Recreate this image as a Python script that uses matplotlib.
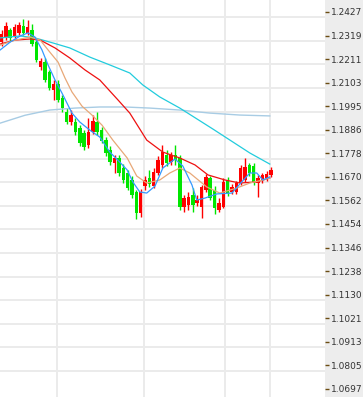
import matplotlib
matplotlib.use('Agg')
import matplotlib.pyplot as plt
import numpy as np

# daily candles (red = up, green = down)
opens = [1.2289, 1.2312, 1.2344, 1.2317, 1.2331, 1.2363, 1.2331, 1.2344, 1.2289, 1.2174,
         1.2197, 1.2152, 1.2069, 1.2096, 1.2032, 1.1968, 1.1922, 1.1922, 1.1894, 1.1872,
         1.1816, 1.1876, 1.1922, 1.1885, 1.1839, 1.1794, 1.1734, 1.1757, 1.1711, 1.1688,
         1.1656, 1.1601, 1.1504, 1.1628, 1.1665, 1.1628, 1.1688, 1.1725, 1.1771, 1.1738,
         1.1771, 1.1757, 1.1532, 1.1541, 1.1587, 1.1550, 1.1532, 1.1610, 1.1665, 1.1610,
         1.1518, 1.1532, 1.1656, 1.1601, 1.1601, 1.1642, 1.1656, 1.1725, 1.1720, 1.1642,
         1.1656, 1.1665, 1.1679]
closes = [1.2326, 1.2363, 1.2308, 1.2358, 1.2367, 1.2331, 1.2358, 1.2280, 1.2207, 1.2202,
          1.2115, 1.2078, 1.2096, 1.2023, 1.1986, 1.1922, 1.1954, 1.1876, 1.1826, 1.1807,
          1.1876, 1.1927, 1.1876, 1.1835, 1.1780, 1.1738, 1.1757, 1.1688, 1.1656, 1.1619,
          1.1587, 1.1504, 1.1601, 1.1656, 1.1637, 1.1692, 1.1748, 1.1784, 1.1734, 1.1771,
          1.1748, 1.1532, 1.1573, 1.1578, 1.1541, 1.1564, 1.1624, 1.1670, 1.1573, 1.1527,
          1.1550, 1.1647, 1.1596, 1.1624, 1.1642, 1.1711, 1.1715, 1.1688, 1.1647, 1.1665,
          1.1679, 1.1683, 1.1702]
highs = [1.2344, 1.2381, 1.2353, 1.2372, 1.2381, 1.2395, 1.2390, 1.2372, 1.2298, 1.2216,
         1.2216, 1.2161, 1.2115, 1.2115, 1.2046, 1.1986, 1.1977, 1.1940, 1.1908, 1.1885,
         1.1940, 1.1954, 1.1968, 1.1899, 1.1853, 1.1812, 1.1771, 1.1771, 1.1729, 1.1702,
         1.1674, 1.1610, 1.1614, 1.1674, 1.1702, 1.1711, 1.1766, 1.1816, 1.1794, 1.1784,
         1.1816, 1.1771, 1.1587, 1.1601, 1.1619, 1.1587, 1.1633, 1.1683, 1.1674, 1.1628,
         1.1573, 1.1665, 1.1670, 1.1637, 1.1651, 1.1725, 1.1757, 1.1734, 1.1734, 1.1679,
         1.1688, 1.1697, 1.1715]
lows = [1.2271, 1.2298, 1.2294, 1.2308, 1.2321, 1.2321, 1.2321, 1.2271, 1.2197, 1.2161,
        1.2106, 1.2069, 1.2023, 1.2014, 1.1968, 1.1913, 1.1908, 1.1862, 1.1812, 1.1794,
        1.1803, 1.1867, 1.1862, 1.1826, 1.1766, 1.1725, 1.1688, 1.1674, 1.1642, 1.1610,
        1.1573, 1.1477, 1.1486, 1.1610, 1.1624, 1.1619, 1.1679, 1.1711, 1.1720, 1.1725,
        1.1725, 1.1518, 1.1509, 1.1518, 1.1509, 1.1536, 1.1481, 1.1601, 1.1564, 1.1500,
        1.1509, 1.1527, 1.1582, 1.1592, 1.1592, 1.1633, 1.1647, 1.1674, 1.1633, 1.1578,
        1.1642, 1.1651, 1.1670]

# moving average lines (candle position, value)
ma5_x = [-0.3, 2.0, 4.3, 6.1, 7.7, 9.3, 10.7, 12.3, 13.9, 16.2, 18.0, 20.3, 22.6, 24.9, 27.2, 28.9, 30.2,
         31.8, 33.4, 35.3, 37.1, 39.9, 41.7, 43.8, 44.9, 46.8, 49.5, 53.0, 54.8, 57.1, 58.7, 60.1, 61.7]
ma5_y = [1.2253, 1.2289, 1.2317, 1.2331, 1.2312, 1.2253, 1.2184, 1.2115, 1.2055, 1.1963, 1.1922, 1.1885,
         1.1853, 1.1784, 1.1738, 1.1702, 1.1647, 1.1601, 1.1596, 1.1628, 1.1711, 1.1752, 1.1720, 1.1633,
         1.1564, 1.1573, 1.1592, 1.1596, 1.1637, 1.1688, 1.1688, 1.1656, 1.1670]
ma10_x = [-0.3, 3.1, 6.6, 8.9, 11.1, 13.0, 14.6, 16.2, 18.5, 20.8, 23.1, 25.6, 28.9, 31.1, 33.4, 36.4,
          38.7, 41.0, 43.3, 47.2, 50.2, 54.1, 57.1, 60.1, 61.7]
ma10_y = [1.2275, 1.2298, 1.2312, 1.2298, 1.2243, 1.2197, 1.2124, 1.2060, 1.1995, 1.1954, 1.1908, 1.1839,
          1.1757, 1.1674, 1.1642, 1.1656, 1.1688, 1.1711, 1.1688, 1.1624, 1.1596, 1.1619, 1.1642, 1.1656,
          1.1665]
ma20_x = [-0.3, 3.1, 6.6, 8.9, 12.3, 15.7, 19.2, 22.6, 26.8, 29.5, 33.4, 37.1, 41.0, 44.5, 47.5, 51.4,
          54.8, 58.7, 61.7]
ma20_y = [1.2280, 1.2298, 1.2303, 1.2298, 1.2262, 1.2216, 1.2161, 1.2115, 1.2023, 1.1963, 1.1839, 1.1784,
          1.1757, 1.1725, 1.1679, 1.1656, 1.1642, 1.1647, 1.1665]
ma30_x = [-0.3, 4.3, 7.7, 11.8, 15.7, 20.3, 24.9, 29.5, 32.5, 36.4, 41.0, 48.6, 57.1, 61.7]
ma30_y = [1.2308, 1.2317, 1.2308, 1.2285, 1.2262, 1.2220, 1.2184, 1.2147, 1.2092, 1.2037, 1.1986, 1.1890,
          1.1780, 1.1729]
ma60_x = [-0.3, 5.4, 11.1, 16.9, 22.6, 28.4, 34.1, 41.0, 47.9, 54.8, 61.7]
ma60_y = [1.1917, 1.1953, 1.1977, 1.1986, 1.1991, 1.1991, 1.1986, 1.1977, 1.1963, 1.1954, 1.1950]

price_ticks = [1.2427, 1.2319, 1.2211, 1.2103, 1.1995, 1.1886, 1.1778, 1.1670, 1.1562,
               1.1454, 1.1346, 1.1238, 1.1130, 1.1021, 1.0913, 1.0805, 1.0697]
date_lines = [12.8, 32.8, 51.4, 61.7]

fig = plt.figure(figsize=(3.63, 3.97), dpi=100, facecolor='#ededed')
ax = fig.add_axes([0, 0, 325 / 363, 1])
ax.set_facecolor('white')
for s in ax.spines.values():
    s.set_visible(False)

ax.set_xlim(-0.35, 74.4)
ax.set_ylim(1.0660, 1.2482)

# grid (horizontal lines sit a bit under the labels on the original)
for p in price_ticks[:-1]:
    ax.axhline(p - 0.0025, color='#ebebeb', lw=1.4, zorder=0)
for d in date_lines:
    ax.axvline(d, color='#ebebeb', lw=1.4, zorder=0)

o = np.array(opens)
c = np.array(closes)
x = np.arange(len(o))
cols = np.where(c >= o, '#ff0000', '#00e600')
ax.vlines(x, lows, highs, colors=cols, lw=1, zorder=1)
ax.bar(x, c - o, bottom=o, width=0.8, color=cols, linewidth=0, zorder=2)

ax.plot(ma60_x, ma60_y, color='#a8cce4', lw=1, zorder=3)
ax.plot(ma30_x, ma30_y, color='#22ccdd', lw=0.9, zorder=3)
ax.plot(ma20_x, ma20_y, color='#ee1111', lw=0.9, zorder=3)
ax.plot(ma10_x, ma10_y, color='#e8a878', lw=0.9, zorder=3)
ax.plot(ma5_x, ma5_y, color='#3399ff', lw=0.9, zorder=3)

ax.set_xticks([])
ax.set_yticks(price_ticks)
ax.set_yticklabels(['%.4f' % p for p in price_ticks])
ax.yaxis.tick_right()
ax.tick_params(axis='y', length=3, width=1, color='#6b4c12', labelsize=6.5,
               labelcolor='#333333', pad=1.5)

fig.savefig('out.png', dpi=100, facecolor=fig.get_facecolor())
